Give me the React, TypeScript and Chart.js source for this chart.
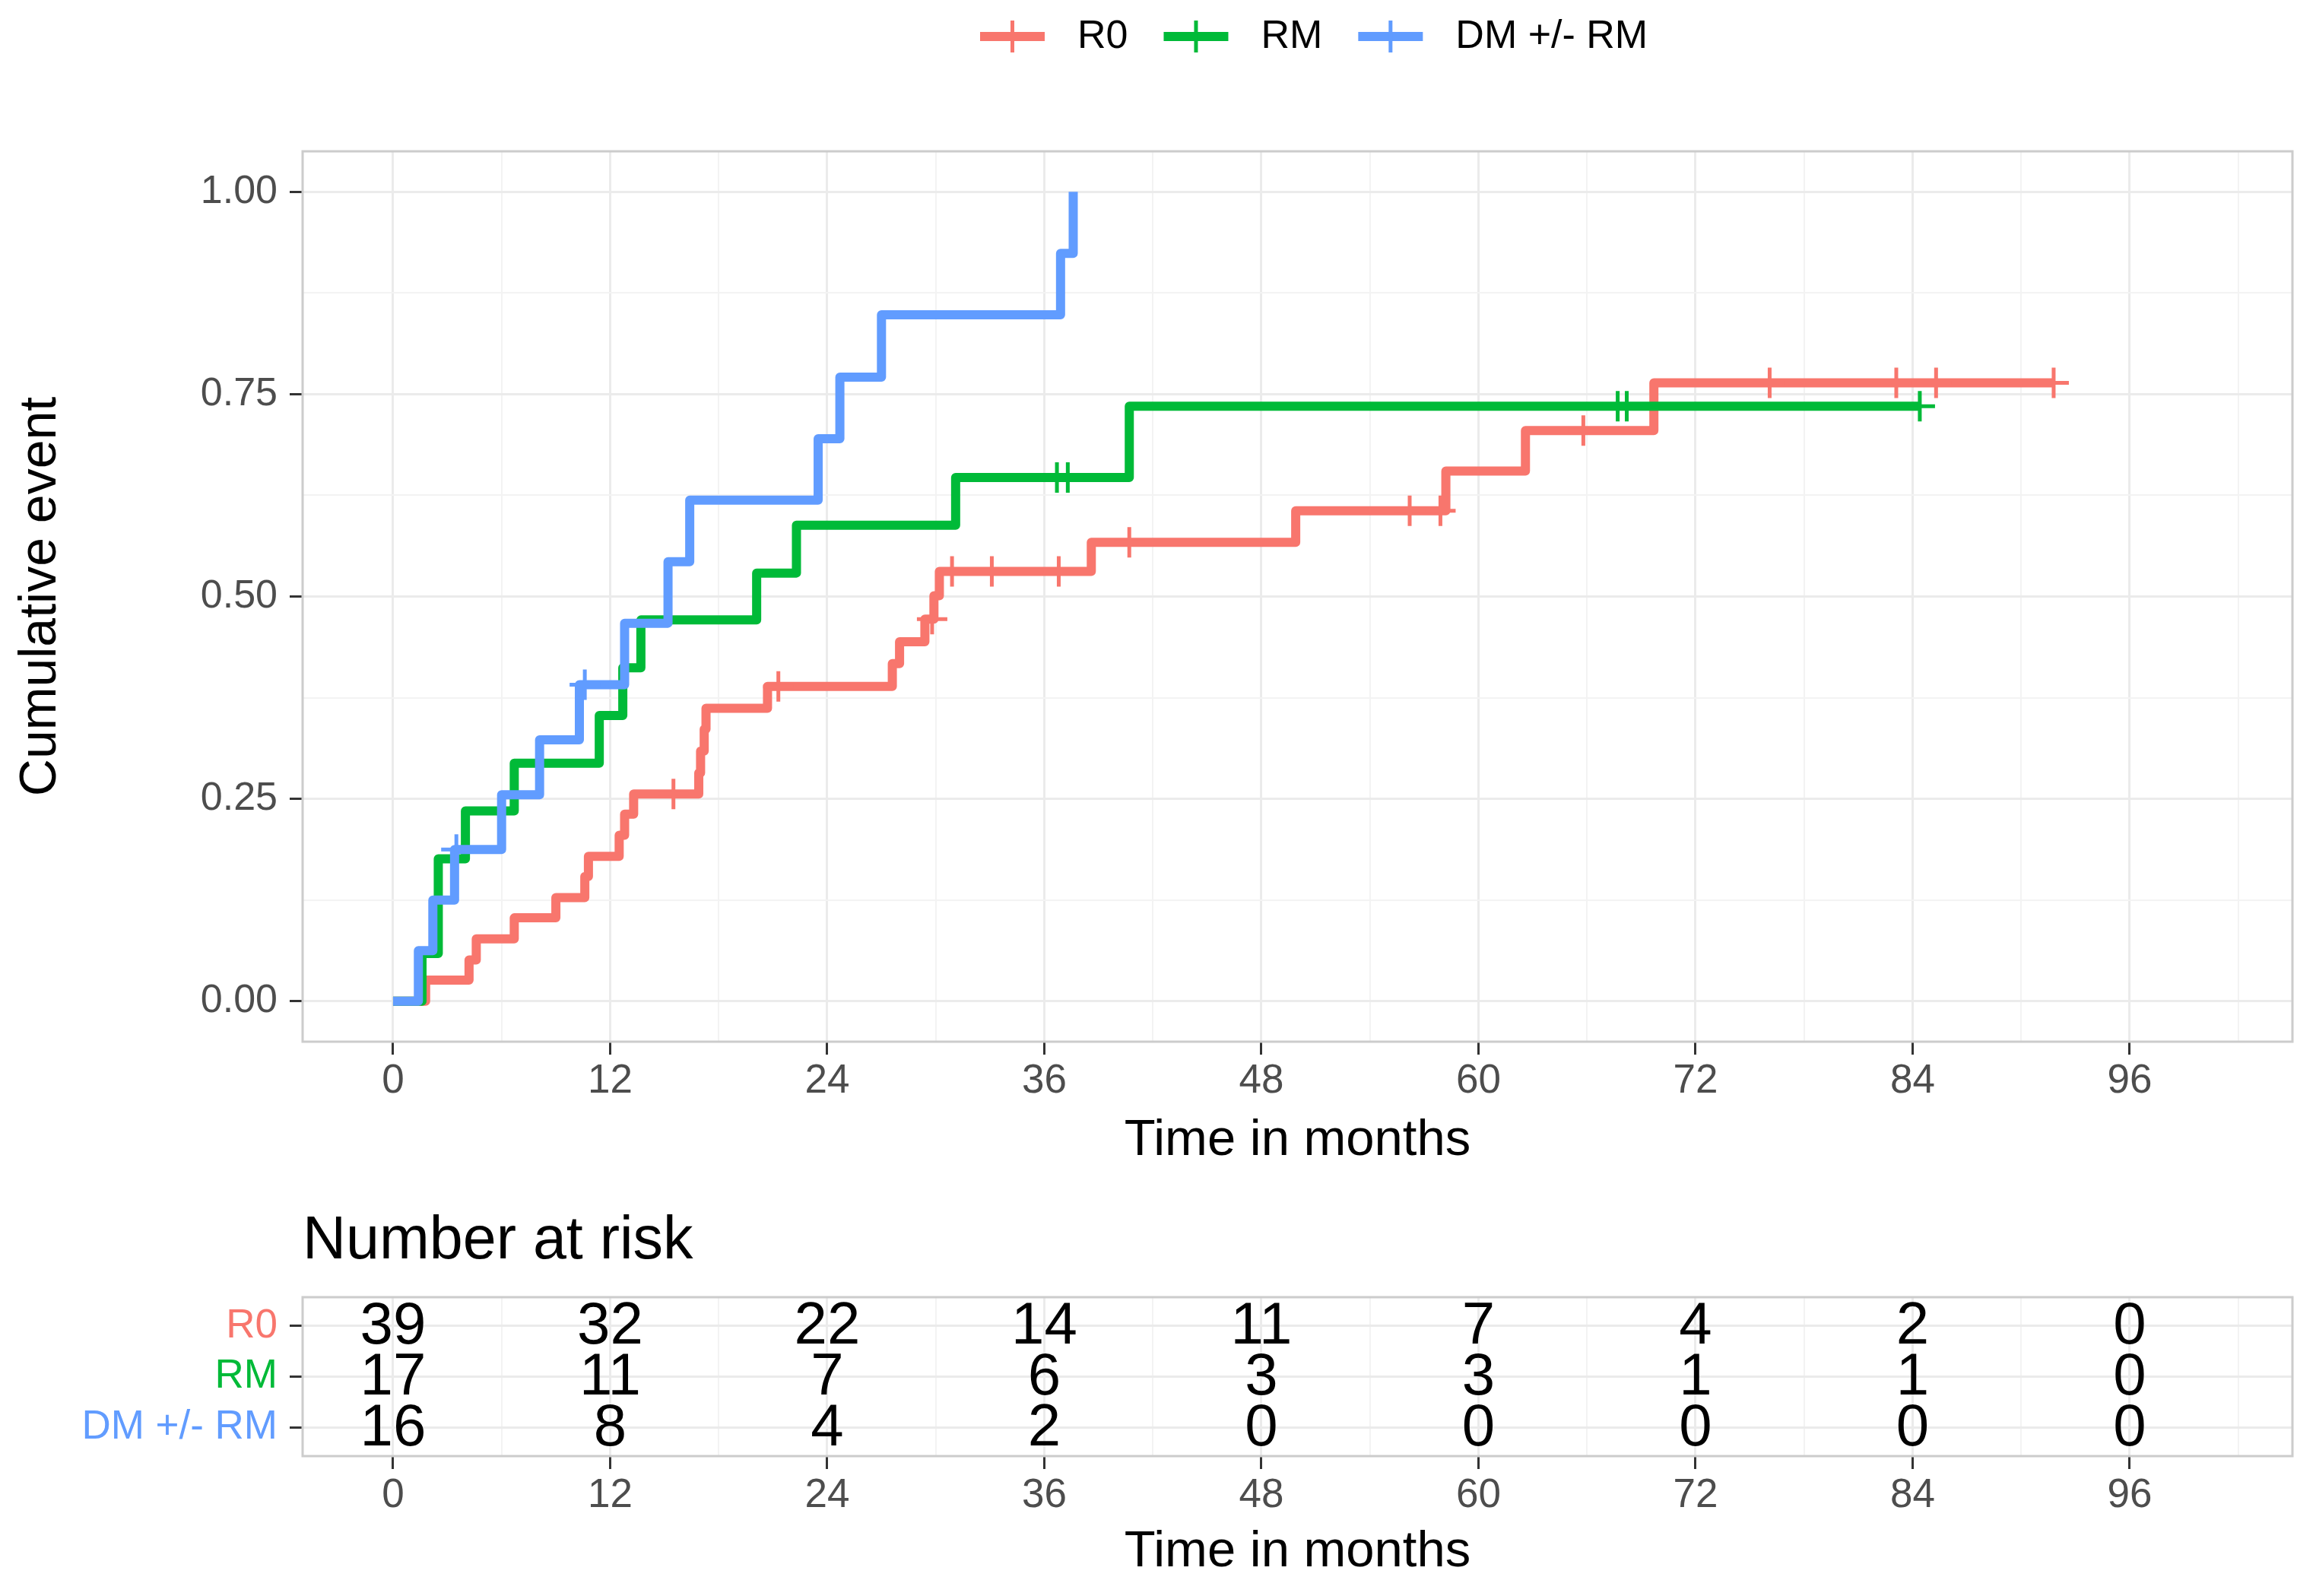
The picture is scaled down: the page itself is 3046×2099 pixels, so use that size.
import React, { useEffect, useRef } from 'react';
import { Chart, registerables } from 'chart.js';

Chart.register(...registerables);

const FONT = '"Liberation Sans", Arial, Helvetica, sans-serif';

// ---- groups ----
const groupNames = ['R0', 'RM', 'DM +/- RM'];
const groupColors = ['#F8766D', '#00BA38', '#619CFF'];

// ---- cumulative event step curves (time in months, cumulative event) ----
const r0Times = [0, 1.8, 4.2, 4.6, 6.7, 9.0, 10.6, 10.8, 12.5, 12.8, 13.3, 16.9, 17.0, 17.2, 17.3, 20.7, 27.6, 28.0, 29.4, 29.9, 30.2, 38.6, 49.9, 58.2, 62.6, 69.7, 91.8];
const r0Values = [0, 0.026, 0.051, 0.077, 0.103, 0.128, 0.154, 0.179, 0.205, 0.231, 0.256, 0.282, 0.309, 0.336, 0.362, 0.389, 0.417, 0.444, 0.472, 0.501, 0.531, 0.567, 0.606, 0.655, 0.705, 0.764, 0.764];
const r0Censor = [15.5, 21.3, 29.8, 30.9, 33.1, 36.8, 40.7, 56.2, 57.9, 65.8, 76.1, 83.1, 85.3, 91.8];

const rmTimes = [0, 1.6, 2.5, 4.0, 6.7, 11.4, 12.7, 13.7, 20.1, 22.3, 31.1, 40.7, 84.4];
const rmValues = [0, 0.059, 0.176, 0.235, 0.294, 0.353, 0.412, 0.471, 0.529, 0.588, 0.647, 0.735, 0.735];
const rmCensor = [36.7, 37.3, 67.7, 68.2, 84.4];

const dmTimes = [0, 1.4, 2.2, 3.4, 6.0, 8.1, 10.3, 12.8, 15.2, 16.4, 23.5, 24.7, 27.0, 36.9, 37.6];
const dmValues = [0, 0.0625, 0.125, 0.1875, 0.255, 0.323, 0.391, 0.467, 0.543, 0.619, 0.695, 0.771, 0.848, 0.924, 1.0];
const dmCensor = [3.5, 10.6];

// ---- axes ----
const xMajorTicks = [0, 12, 24, 36, 48, 60, 72, 84, 96];
const xTickLabels = ['0', '12', '24', '36', '48', '60', '72', '84', '96'];
const xMinorTicks = [6, 18, 30, 42, 54, 66, 78, 90, 102];
const yMajorTicks = [0, 0.25, 0.5, 0.75, 1];
const yTickLabels = ['0.00', '0.25', '0.50', '0.75', '1.00'];
const yMinorTicks = [0.125, 0.375, 0.625, 0.875];

// ---- number at risk ----
const riskTimes = [0, 12, 24, 36, 48, 60, 72, 84, 96];
const r0Risk = [39, 32, 22, 14, 11, 7, 4, 2, 0];
const rmRisk = [17, 11, 7, 6, 3, 3, 1, 1, 0];
const dmRisk = [16, 8, 4, 2, 0, 0, 0, 0, 0];
const riskRows = [1, 2, 3];

const yTitle = 'Cumulative event';
const xTitle = 'Time in months';
const riskTitle = 'Number at risk';

const curveTimes = [r0Times, rmTimes, dmTimes];
const curveValues = [r0Values, rmValues, dmValues];
const censorTimes = [r0Censor, rmCensor, dmCensor];
const riskCounts = [r0Risk, rmRisk, dmRisk];

function stepAt(times: number[], values: number[], t: number): number {
  let v = values[0];
  for (let i = 0; i < times.length; i++) {
    if (times[i] <= t) v = values[i];
  }
  return v;
}

const W = 3046;
const MAIN_H = 1560;
const RISK_H = 2099 - MAIN_H;

const isIn = (arr: number[], v: number) => arr.some((a) => Math.abs(a - v) < 1e-9);

function xScaleOptions(height: number) {
  return {
    type: 'linear' as const,
    min: -5,
    max: 105,
    afterBuildTicks: (scale: any) => {
      scale.ticks = [...xMajorTicks, ...xMinorTicks].sort((a, b) => a - b).map((v) => ({ value: v }));
    },
    afterFit: (scale: any) => {
      scale.height = height;
    },
    border: { display: false },
    grid: {
      color: (c: any) => (c.tick && isIn(xMajorTicks, c.tick.value) ? '#EBEBEB' : '#F3F3F3'),
      lineWidth: (c: any) => (c.tick && isIn(xMajorTicks, c.tick.value) ? 3 : 2),
      tickColor: (c: any) => (c.tick && isIn(xMajorTicks, c.tick.value) ? '#333333' : 'rgba(0,0,0,0)'),
      tickWidth: 3,
      tickLength: 17,
      drawTicks: true,
    },
    ticks: {
      autoSkip: false,
      maxRotation: 0,
      minRotation: 0,
      padding: 4,
      color: '#4D4D4D',
      font: { family: FONT, size: 53 },
      callback: (value: any) => {
        const i = xMajorTicks.indexOf(Number(value));
        return i >= 0 ? xTickLabels[i] : '';
      },
    },
    title: {
      display: true,
      text: xTitle,
      color: '#000000',
      font: { family: FONT, size: 67 },
      padding: { top: 0, bottom: 0 },
    },
  };
}

const panelBorder = {
  id: 'panelBorder',
  afterDatasetsDraw(chart: any) {
    const { ctx, chartArea } = chart;
    ctx.save();
    ctx.strokeStyle = '#CCCCCC';
    ctx.lineWidth = 3;
    ctx.strokeRect(chartArea.left, chartArea.top, chartArea.right - chartArea.left, chartArea.bottom - chartArea.top);
    ctx.restore();
  },
};

const topLegend = {
  id: 'topLegend',
  afterDraw(chart: any) {
    const ctx = chart.ctx;
    ctx.save();
    ctx.font = `52px ${FONT}`;
    ctx.textBaseline = 'middle';
    ctx.textAlign = 'left';
    let x = 1289;
    const y = 48;
    const keyW = 85;
    groupNames.forEach((name, i) => {
      ctx.strokeStyle = groupColors[i];
      ctx.lineCap = 'butt';
      ctx.lineWidth = 12;
      ctx.beginPath();
      ctx.moveTo(x, y);
      ctx.lineTo(x + keyW, y);
      ctx.stroke();
      ctx.lineWidth = 5;
      ctx.beginPath();
      ctx.moveTo(x + keyW / 2, y - 21);
      ctx.lineTo(x + keyW / 2, y + 21);
      ctx.stroke();
      const tx = x + keyW + 43;
      ctx.fillStyle = '#000000';
      ctx.fillText(name, tx, y + 1);
      x = tx + ctx.measureText(name).width + 47;
    });
    ctx.restore();
  },
};

const riskLabels = {
  id: 'riskLabels',
  afterDatasetsDraw(chart: any) {
    const ctx = chart.ctx;
    ctx.save();
    ctx.font = `78px ${FONT}`;
    ctx.fillStyle = '#000000';
    ctx.textAlign = 'center';
    ctx.textBaseline = 'middle';
    chart.data.datasets.forEach((ds: any, i: number) => {
      const meta = chart.getDatasetMeta(i);
      meta.data.forEach((el: any, j: number) => {
        ctx.fillText(String(riskCounts[i][j]), el.x, el.y + 2);
      });
    });
    ctx.font = `79px ${FONT}`;
    ctx.textAlign = 'left';
    ctx.textBaseline = 'alphabetic';
    ctx.fillText(riskTitle, chart.chartArea.left, 95);
    ctx.restore();
  },
};

export default function App() {
  const mainRef = useRef<HTMLCanvasElement | null>(null);
  const riskRef = useRef<HTMLCanvasElement | null>(null);

  useEffect(() => {
    if (!mainRef.current || !riskRef.current) return;

    const lineSets = groupNames.map((name, i) => ({
      label: name,
      data: curveTimes[i].map((t, k) => ({ x: t, y: curveValues[i][k] })),
      borderColor: groupColors[i],
      backgroundColor: groupColors[i],
      borderWidth: 12,
      stepped: 'before' as const,
      pointRadius: 0,
      fill: false,
      borderJoinStyle: 'round' as const,
      borderCapStyle: 'butt' as const,
      order: 6 - i,
    }));
    const censorSets = groupNames.map((name, i) => ({
      label: name + ' censored',
      data: censorTimes[i].map((t) => ({ x: t, y: stepAt(curveTimes[i], curveValues[i], t) })),
      showLine: false,
      borderColor: groupColors[i],
      backgroundColor: groupColors[i],
      pointStyle: 'cross' as const,
      pointRadius: 20,
      pointBorderWidth: 5,
      pointBorderColor: groupColors[i],
      order: 3 - i,
    }));

    const main = new Chart(mainRef.current, {
      type: 'line',
      data: { datasets: [...lineSets, ...censorSets] as any },
      options: {
        animation: false,
        responsive: false,
        maintainAspectRatio: false,
        devicePixelRatio: 1,
        layout: { padding: { left: 0, right: 31, top: 199, bottom: 19.2 } },
        plugins: { legend: { display: false }, tooltip: { enabled: false }, title: { display: false } },
        scales: {
          x: xScaleOptions(170.8) as any,
          y: {
            type: 'linear',
            min: -0.05,
            max: 1.05,
            afterBuildTicks: (scale: any) => {
              scale.ticks = [...yMajorTicks, ...yMinorTicks].sort((a, b) => a - b).map((v) => ({ value: v }));
            },
            afterFit: (scale: any) => {
              scale.width = 398;
            },
            border: { display: false },
            grid: {
              color: (c: any) => (c.tick && isIn(yMajorTicks, c.tick.value) ? '#EBEBEB' : '#F3F3F3'),
              lineWidth: (c: any) => (c.tick && isIn(yMajorTicks, c.tick.value) ? 3 : 2),
              tickColor: (c: any) => (c.tick && isIn(yMajorTicks, c.tick.value) ? '#333333' : 'rgba(0,0,0,0)'),
              tickWidth: 3,
              tickLength: 17,
              drawTicks: true,
            },
            ticks: {
              autoSkip: false,
              padding: 16,
              color: '#4D4D4D',
              font: { family: FONT, size: 52 },
              callback: (value: any) => {
                const v = Number(value);
                const i = yMajorTicks.findIndex((m) => Math.abs(m - v) < 1e-9);
                return i >= 0 ? yTickLabels[i] : '';
              },
            },
            title: {
              display: true,
              text: yTitle,
              color: '#000000',
              font: { family: FONT, size: 68 },
              padding: { top: 13, bottom: 0 },
            },
          } as any,
        },
      },
      plugins: [panelBorder, topLegend],
    });

    const riskSets = groupNames.map((name, i) => ({
      label: name,
      data: riskTimes.map((t) => ({ x: t, y: riskRows[i] })),
      pointRadius: 0,
      showLine: false,
      borderColor: groupColors[i],
      backgroundColor: groupColors[i],
    }));

    const risk = new Chart(riskRef.current, {
      type: 'scatter',
      data: { datasets: riskSets as any },
      options: {
        animation: false,
        responsive: false,
        maintainAspectRatio: false,
        devicePixelRatio: 1,
        layout: { padding: { left: 0, right: 31, top: 146, bottom: 17.2 } },
        plugins: { legend: { display: false }, tooltip: { enabled: false }, title: { display: false } },
        scales: {
          x: xScaleOptions(166.8) as any,
          y: {
            type: 'linear',
            min: 0.43,
            max: 3.57,
            reverse: true,
            afterBuildTicks: (scale: any) => {
              scale.ticks = riskRows.map((v) => ({ value: v }));
            },
            afterFit: (scale: any) => {
              scale.width = 398;
            },
            border: { display: false },
            grid: {
              color: '#EBEBEB',
              lineWidth: 3,
              tickColor: '#333333',
              tickWidth: 3,
              tickLength: 17,
              drawTicks: true,
            },
            ticks: {
              autoSkip: false,
              padding: 16,
              color: (c: any) => groupColors[riskRows.indexOf(c.tick ? c.tick.value : 1)] || '#000',
              font: { family: FONT, size: 53 },
              callback: (value: any) => {
                const i = riskRows.indexOf(Number(value));
                return i >= 0 ? groupNames[i] : '';
              },
            },
            title: { display: false },
          } as any,
        },
      },
      plugins: [panelBorder, riskLabels],
    });

    return () => {
      main.destroy();
      risk.destroy();
    };
  }, []);

  return (
    <div style={{ position: 'fixed', left: 0, top: 0, width: W, height: 2099, background: '#ffffff', overflow: 'hidden' }}>
      <canvas
        ref={mainRef}
        width={W}
        height={MAIN_H}
        style={{ position: 'absolute', left: 0, top: 0, width: W, height: MAIN_H, display: 'block' }}
      />
      <canvas
        ref={riskRef}
        width={W}
        height={RISK_H}
        style={{ position: 'absolute', left: 0, top: MAIN_H, width: W, height: RISK_H, display: 'block' }}
      />
    </div>
  );
}
